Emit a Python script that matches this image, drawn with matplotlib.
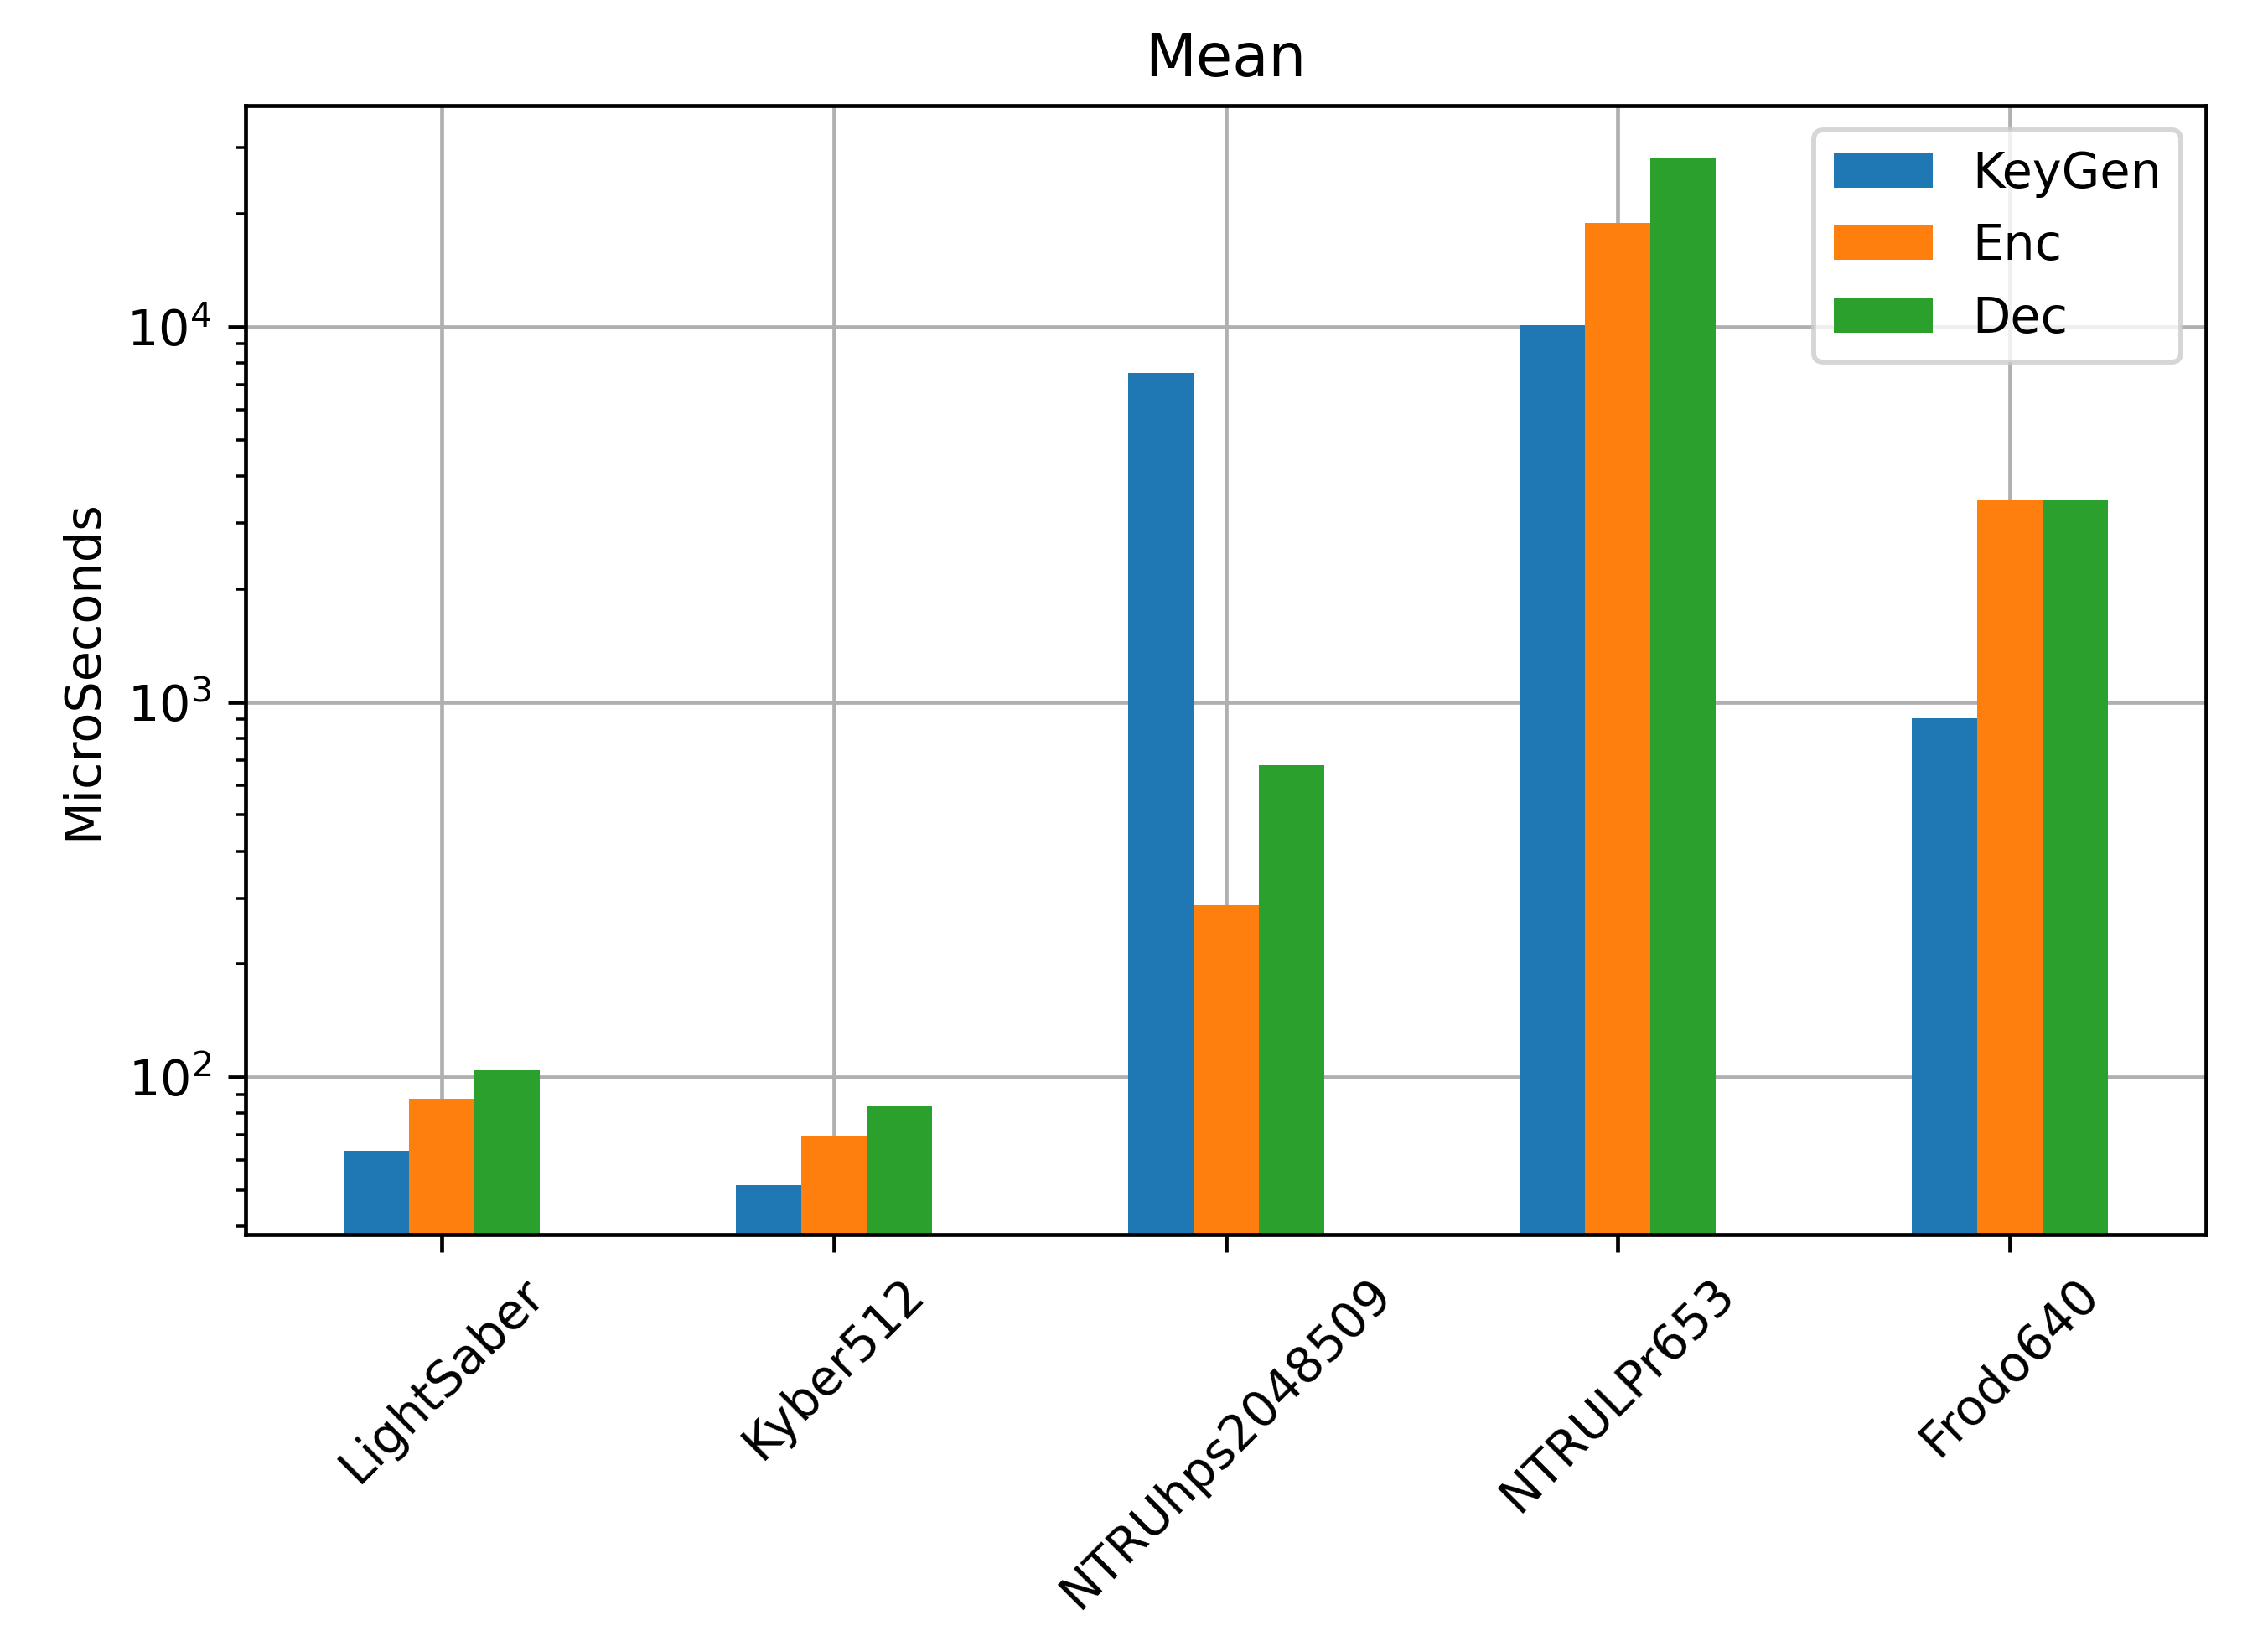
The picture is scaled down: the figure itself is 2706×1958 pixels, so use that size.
import numpy as np
import matplotlib.pyplot as plt

# mean timings (microseconds)
schemes = ['LightSaber', 'Kyber512', 'NTRUhps2048509', 'NTRULPr653', 'Frodo640']
keygen = [63.5, 51.4, 7540, 10090, 907]
enc = [87.5, 69.5, 287, 18930, 3460]
dec = [104.5, 83.7, 680, 28250, 3440]
series = {'KeyGen': keygen, 'Enc': enc, 'Dec': dec}

DPI = 424
fig = plt.figure(figsize=(2706 / DPI, 1958 / DPI), dpi=DPI)
ax = fig.add_axes([0.1084, 0.2476, 0.8642, 0.6881])

x = np.arange(len(schemes))
width = 0.5 / 3
for i, (name, vals) in enumerate(series.items()):
    ax.bar(x + (i - 1) * width, vals, width, label=name, log=True)

ax.set_xlim(-0.5, len(schemes) - 0.5)
ax.set_ylim(38, 38900)
ax.set_xticks(x)
ax.set_xticklabels(schemes, rotation=45)
ax.set_ylabel('MicroSeconds')
ax.set_title('Mean')
ax.grid(True)
ax.set_axisbelow(True)
ax.legend(loc='upper right')

fig.savefig('out.png', dpi=DPI)
